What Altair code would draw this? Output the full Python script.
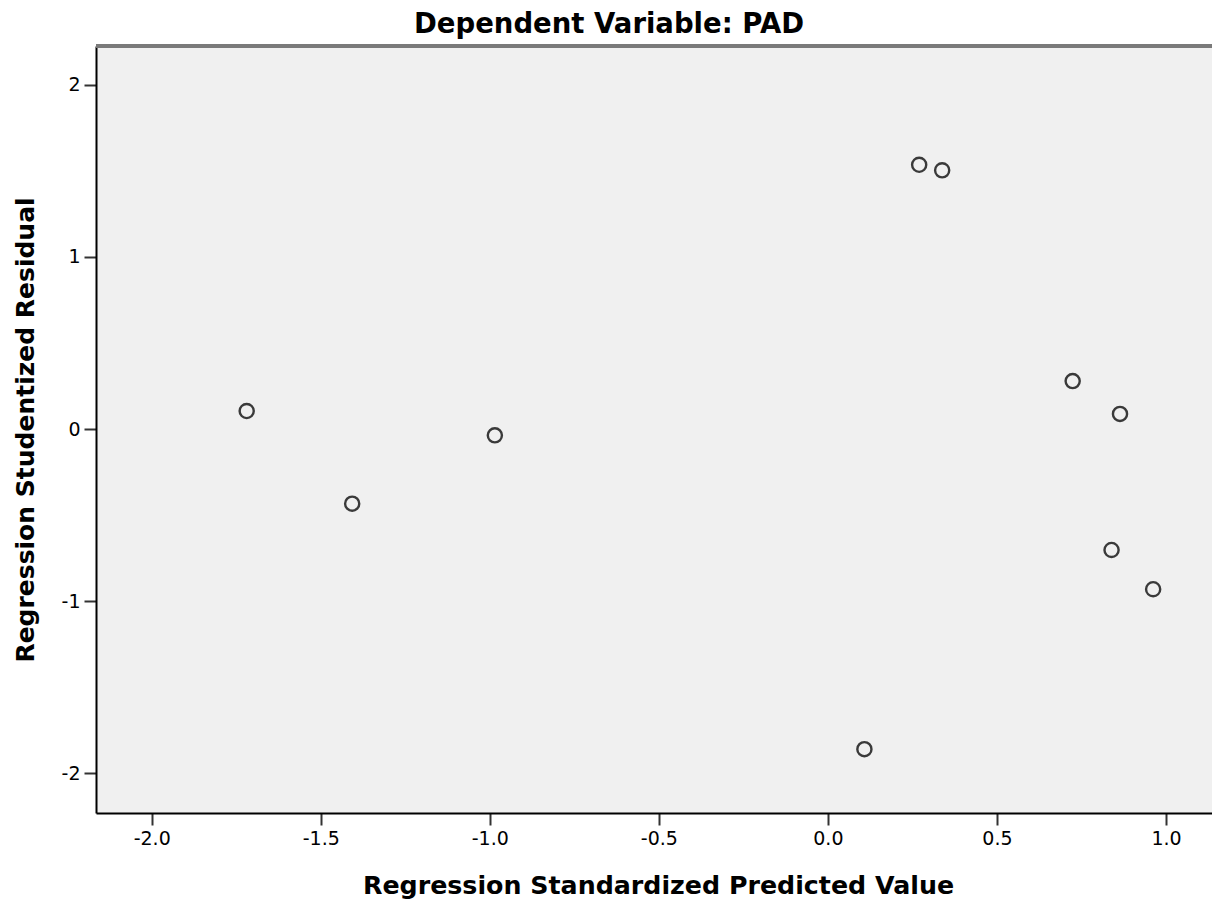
import altair as alt
import pandas as pd

# Data
predicted = [-1.719, -1.407, -0.985, 0.270, 0.338, 0.724, 0.864, 0.839, 0.962, 0.108]
residual = [0.105, -0.433, -0.036, 1.535, 1.503, 0.279, 0.088, -0.702, -0.930, -1.859]

x_ticks = [-2.0, -1.5, -1.0, -0.5, 0.0, 0.5, 1.0]
y_ticks = [-2, -1, 0, 1, 2]

x_domain = [-2.1647, 1.1361]
y_domain = [-2.2294, 2.2247]

df = pd.DataFrame({"pred": predicted, "resid": residual})

W, H = 1116, 767
FONT = "DejaVu Sans"

points = alt.Chart(df).mark_point(
    shape="circle", filled=False, size=200, strokeWidth=2.4, color="#3a3a3a", opacity=1
).encode(
    x=alt.X(
        "pred:Q",
        scale=alt.Scale(domain=x_domain, nice=False, zero=False),
        axis=alt.Axis(
            values=x_ticks,
            format=".1f",
            labelExpr="replace(datum.label, '\u2212', '-')",
            grid=False,
            tickSize=12,
            tickWidth=2,
            tickColor="#333333",
            domainColor="#000000",
            domainWidth=2,
            labelFont=FONT,
            labelFontSize=19,
            labelColor="#000000",
            labelPadding=4,
            title="Regression Standardized Predicted Value",
            titleFont=FONT,
            titleFontSize=25.3,
            titleFontWeight="bold",
            titleColor="#000000",
            titleBaseline="alphabetic",
            titleY=80,
            titleX=(1220 - 96) / 2,
        ),
    ),
    y=alt.Y(
        "resid:Q",
        scale=alt.Scale(domain=y_domain, nice=False, zero=False),
        axis=alt.Axis(
            values=y_ticks,
            format="d",
            labelExpr="replace(datum.label, '\u2212', '-')",
            grid=False,
            tickSize=12,
            tickWidth=2,
            tickColor="#333333",
            domainColor="#000000",
            domainWidth=2,
            labelFont=FONT,
            labelFontSize=19,
            labelColor="#000000",
            labelPadding=4,
            title="Regression Studentized Residual",
            titleFont=FONT,
            titleFontSize=25,
            titleFontWeight="bold",
            titleColor="#000000",
            titleAngle=270,
            titleBaseline="alphabetic",
            titleAlign="center",
            titleX=-62.5,
            titleY=H / 2,
        ),
    ),
)

top_border = alt.Chart(df).mark_rule(color="#7a7a7a", strokeWidth=3).encode(
    x=alt.value(0), x2=alt.value(W), y=alt.value(0)
)

chart = alt.layer(top_border, points).properties(
    width=W,
    height=H,
    title=alt.TitleParams(
        "Dependent Variable: PAD",
        font=FONT,
        fontSize=27.5,
        fontWeight="bold",
        color="#000000",
        anchor="middle",
        baseline="alphabetic",
        offset=12,
        dx=-45,
        dy=28,
    ),
    autosize=alt.AutoSizeParams(type="none"),
    padding={"left": 88, "top": 38, "right": 0, "bottom": 89},
    background="#ffffff",
).configure_view(fill="#f0f0f0", stroke=None)

chart.save("out.html", embed_options={"renderer": "svg", "actions": False})
